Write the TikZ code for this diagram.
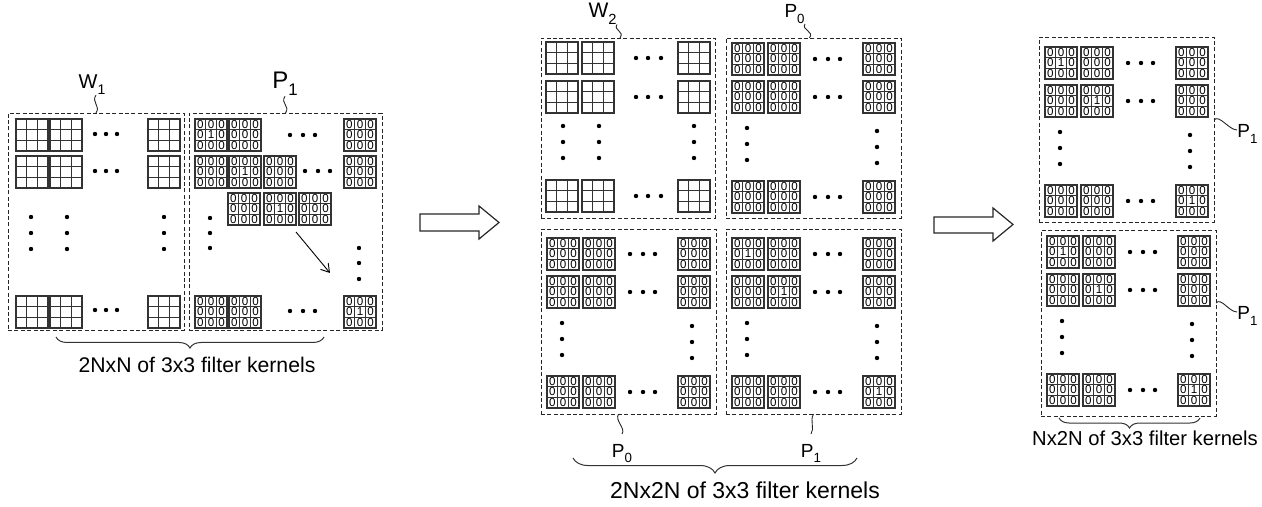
\documentclass[tikz,border=0pt]{standalone}
\usepackage{fontspec}
\setmainfont{Liberation Sans}
\usetikzlibrary{arrows.meta,decorations.pathreplacing}
\newcommand{\idx}[1]{\raisebox{-0.55ex}{\scalebox{0.7}{#1}}}

\begin{document}
\begin{tikzpicture}[
        x=0.5pt, y=-0.5pt,
        >={Straight Barb[length=4pt,width=5pt]},
        grp/.style={
            draw=black!85,
            dash pattern=on 2pt off 1.2pt,
            line width=0.45pt,
            anchor=north west,
            inner sep=0pt,
            outer sep=0pt
        },
        kline/.style={draw=black!80, line width=0.55pt},
        digit/.style={font=\fontsize{5.8}{6}\selectfont, inner sep=0pt},
        lbl/.style={font=\fontsize{9.5}{10}\selectfont, inner sep=0pt},
        captxt/.style={anchor=base, inner sep=0pt},
        squig/.style={draw=black!85, line width=0.45pt},
        brc/.style={
            draw=black!80,
            line width=0.5pt,
            decorate,
            decoration={brace, mirror, amplitude=#1}
        },
        bigarrow/.style={draw=black!85, line width=0.6pt, line join=miter},
        arrow/.style={->, line width=0.45pt},
        pics/wkern/.style={code={
            \draw[kline] (0,0) rectangle (32,32);
            \foreach \i in {1,2} {
                \draw[kline] (\i*32/3,0) -- (\i*32/3,32);
                \draw[kline] (0,\i*32/3) -- (32,\i*32/3);
            }
        }},
        pics/kern/.style={code={
            \pic {wkern};
            \foreach \r in {1,2,3}
                \foreach \c in {1,2,3}
                    \node[digit] (-\r\c) at (\c*32/3-16/3, \r*32/3-16/3) {\ifnum\r\c=22 #1\else 0\fi};
        }}
    ]
    \useasboundingbox (0,0) rectangle (1262,507);

    % left: W1 and P1
    \node[grp, minimum width=88pt, minimum height=108.5pt] (w1) at (8,113) {};
    \foreach \cx in {16,50,148}
        \foreach \cy in {119,156,296}
            \pic at (\cx,\cy) {wkern};
    \foreach \cy in {134,171,310}
        \foreach \cx in {95,106,117}
            \fill (\cx,\cy) circle[radius=2.2];
    \foreach \cx in {31,67,164}
        \foreach \cy in {217,233,249}
            \fill (\cx,\cy) circle[radius=2.2];

    \node[grp, minimum width=96.5pt, minimum height=108.5pt] (p1) at (189,113) {};
    \foreach \cx/\cy/\v in {195/119/1, 229/119/0, 344/119/0, 195/156/0, 229/156/1, 264/156/0, 344/156/0,
            228/193/0, 264/193/1, 299/193/0, 195/296/0, 229/296/0, 344/296/1}
        \pic at (\cx,\cy) {kern=\v};
    \foreach \cx/\cy in {290/135, 303/135, 315/135, 305/171, 318/171, 330/171, 290/311, 303/311, 315/311,
            210/218, 210/233, 210/248, 359/248, 359/263, 359/279}
        \fill (\cx,\cy) circle[radius=2.2];
    \coordinate (d1) at (296,232);
    \coordinate (d2) at (330,273);
    \draw[arrow] (d1) -- (d2);

    \node[lbl, font=\fontsize{10}{10}\selectfont, anchor=base] (w1l) at (92,89) {W\idx{1}};
    \node[lbl, font=\fontsize{12}{12}\selectfont, anchor=base] (p1l) at (285,89) {P\idx{1}};
    \draw[squig] (w1.north) .. controls +(5,-7) and +(-5,7) .. ([xshift=2pt]w1l.south);
    \draw[squig] (p1.north) .. controls +(5,-7) and +(-5,7) .. (p1l.south);

    \coordinate (b1a) at (56,337);
    \coordinate (b1b) at (324,337);
    \draw[brc=5.5pt] (b1a) -- (b1b);
    \node[captxt, font=\fontsize{10.6}{12}\selectfont] (t1) at (197,372) {2NxN of 3x3 filter kernels};

    \draw[bigarrow] (420,214) -- (479,214) -- (479,206) -- (499,222.5) -- (479,239) -- (479,231) -- (420,231) -- cycle;

    % middle: W2, then the P blocks of middle and right
    \node[grp, minimum width=87pt, minimum height=90pt] (w2) at (541,38) {};
    \foreach \cx in {546,582,678}
        \foreach \cy in {42,81,180}
            \pic at (\cx,\cy) {wkern};
    \foreach \cy in {58,97,196}
        \foreach \cx in {636,648,661}
            \fill (\cx,\cy) circle[radius=2.2];
    \foreach \cx in {563,599,694}
        \foreach \cy in {126,142,158}
            \fill (\cx,\cy) circle[radius=2.2];

    \foreach \n/\bx/\by/\bh/\ky/\d in {p0t/726/38/180/43/0, p0b/541/229/185/238/0, p1m/726/229/185/238/1,
            rtop/1039/37/185/47/1, rbot/1041/230/186/236/1} {
        \node[grp, minimum width=87.5pt, minimum height=\bh*0.5pt] (\n) at (\bx,\by) {};
        \foreach \cx [count=\i] in {6,42,137}
            \foreach \cy [count=\j] in {0,38,138} {
                \pgfmathtruncatemacro\v{\i==\j ? \d : 0}
                \pic at (\bx+\cx,\ky+\cy) {kern=\v};
            }
        \foreach \cy in {16,54,154}
            \foreach \cx in {89,102,114}
                \fill (\bx+\cx,\ky+\cy) circle[radius=2.2];
        \foreach \cy in {85,101,117}
            \fill (\bx+21,\ky+\cy) circle[radius=2.2] (\bx+151,\ky+\cy+3) circle[radius=2.2];
    }

    \node[lbl, font=\fontsize{10.5}{10}\selectfont, anchor=base east] (w2l) at (617,18) {W\idx{2}};
    \node[lbl, anchor=base east] (p0tl) at (805,18) {P\idx{0}};
    \node[lbl, anchor=north] (p0bl) at (622,444) {P\idx{0}};
    \node[lbl, anchor=north] (p1ml) at (811,444) {P\idx{1}};
    \draw[squig] ([xshift=-4pt]w2.north) .. controls +(5,-7) and +(-4,6) .. (w2l.south east);
    \draw[squig] ([xshift=-2pt]p0t.north) .. controls +(5,-7) and +(-4,6) .. (p0tl.south east);
    \draw[squig] ([xshift=-5pt]p0b.south) .. controls +(-4,7) and +(4,-6) .. ([yshift=5pt]p0bl.north);
    \draw[squig] (p1m.south) .. controls +(-4,7) and +(4,-6) .. ([yshift=5pt]p1ml.north);

    \coordinate (b2a) at (573,458);
    \coordinate (b2b) at (857,458);
    \draw[brc=7.5pt] (b2a) -- (b2b);
    \node[captxt, font=\fontsize{11.5}{13}\selectfont] (t2) at (745,498) {2Nx2N of 3x3 filter kernels};

    \draw[bigarrow] (934,217) -- (993,217) -- (993,208) -- (1013,224.5) -- (993,241) -- (993,233) -- (934,233) -- cycle;

    % right
    \node[lbl, anchor=west] (rtopl) at (1237,134) {P\idx{1}};
    \node[lbl, anchor=west] (rbotl) at (1237,316) {P\idx{1}};
    \draw[squig] ([yshift=4.75pt]rtop.east) .. controls +(5,-6) and +(-8,0) .. ([yshift=2pt]rtopl.west);
    \draw[squig] ([yshift=10pt]rbot.east) .. controls +(5,-6) and +(-8,0) .. ([yshift=2pt]rbotl.west);

    \coordinate (b3a) at (1059,418);
    \coordinate (b3b) at (1200,418);
    \draw[brc=5pt] (b3a) -- (b3b);
    \node[captxt, font=\fontsize{10.1}{12}\selectfont] (t3) at (1145,445) {Nx2N of 3x3 filter kernels};

\end{tikzpicture}
\end{document}
